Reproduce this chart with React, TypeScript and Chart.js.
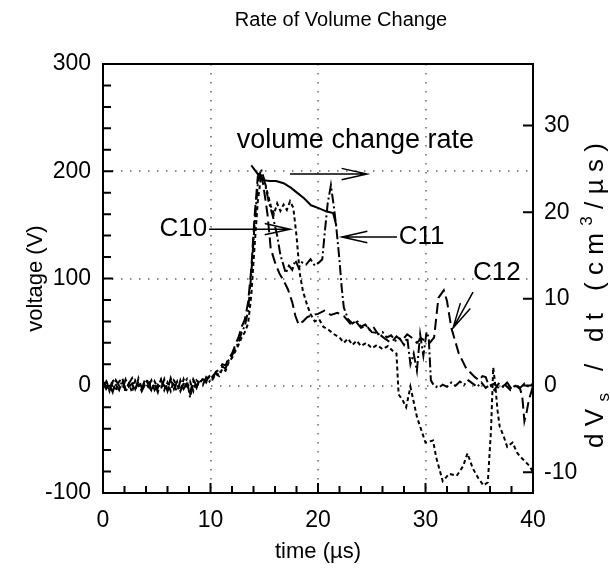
import React, { useEffect, useRef } from 'react';
import { Chart, registerables } from 'chart.js';

Chart.register(...registerables);

const FONT = '"Liberation Sans", Arial, Helvetica, sans-serif';

// ---- data ----
const c10Time = [0,0.3,0.6,0.9,1.2,1.5,1.8,2.1,2.4,2.7,3,3.3,3.6,3.9,4.2,4.5,4.8,5.1,5.4,5.7,6,6.3,6.6,6.9,7.2,7.5,7.8,8.1,8.4,8.7,9,9.3,9.6,9.9,10.2,10.5,10.8,11.1,11.4,11.7,12,12.3,12.6,12.9,
  13.2,13.5,13.8,14.1,14.4,14.7,15.0,15.3,15.6,15.9,16.2,16.5,16.8,17.1,17.4,17.7,18.0,18.3,18.6,19.0,19.3,19.7,20.1,20.5,21.0,21.5,22.0,22.4,22.8,23.2,23.6,24.0,24.5,25.0,25.5,26.0,26.5,27.0,27.3,
  27.5,27.9,28.2,28.6,29.2,30.0,30.7,31.0,31.6,32.2,32.9,33.5,33.9,34.4,34.9,35.4,35.8,36.1,36.3,36.5,36.7,36.9,37.3,37.6,38.1,38.5,38.8,39.2,39.7,40];
const c10Volt = [0,5,-4,3,-5,4,7,-3,2,-6,5,0,-4,6,2,-5,4,-2,6,-4,3,-5,5,0,-4,6,-3,4,-5,5,2,7,3,9,6,11,9,16,14,22,26,32,38,45,
  50,58,85,130,172,195,192,180,168,160,170,163,169,164,172,166,140,105,88,75,67,60,62,55,52,48,45,40,44,38,42,37,40,35,38,34,37,32,30,
  -8,-14,-20,-1,-29,-53,-51,-67,-89,-82,-84,-75,-63,-77,-86,-93,-90,-40,17,0,-23,-38,-48,-57,-53,-62,-66,-70,-75,-81];

const c11Time = [0,0.3,0.6,0.9,1.2,1.5,1.8,2.1,2.4,2.7,3,3.3,3.6,3.9,4.2,4.5,4.8,5.1,5.4,5.7,6,6.3,6.6,6.9,7.2,7.5,7.8,8.1,8.4,8.7,9,9.3,9.6,9.9,10.2,10.5,10.8,11.1,11.4,11.7,12,12.3,12.6,12.9,
  13.2,13.5,13.8,14.1,14.4,14.7,15.0,15.4,15.8,16.2,16.5,16.8,17.0,17.3,17.6,17.9,18.2,18.5,18.9,19.3,19.7,20.1,20.4,20.6,20.9,21.2,21.5,21.7,22.0,22.2,22.4,22.8,23.2,23.6,24.0,24.4,24.8,25.2,25.6,26.0,26.4,26.8,27.2,27.6,28.0,28.3,28.6,28.9,29.2,29.5,29.8,30.1,30.3,
  30.5,30.8,31.2,31.6,32.0,32.4,32.8,33.2,33.6,34.0,34.4,34.8,35.2,35.6,36.0,36.4,36.8,37.2,37.6,38.0,38.4,38.8,39.2,39.6,40];
const c11Volt = [-3,4,-5,6,1,-4,5,-6,2,7,-3,4,-5,1,6,-4,2,-6,5,0,-4,7,-3,4,-5,2,6,-11,4,-2,6,1,8,4,9,12,10,18,16,24,28,35,40,50,
  56,70,105,150,188,202,192,172,158,140,122,112,105,112,108,117,110,115,113,118,112,115,118,140,170,187,165,148,117,92,73,62,58,61,55,57,52,54,48,50,45,47,42,44,38,45,20,30,14,48,28,50,45,
  5,0,-2,1,-1,3,0,4,1,5,2,-1,3,-2,1,-4,2,-1,3,-3,1,-2,2,-1,2];

const c12Time = [0,0.3,0.6,0.9,1.2,1.5,1.8,2.1,2.4,2.7,3,3.3,3.6,3.9,4.2,4.5,4.8,5.1,5.4,5.7,6,6.3,6.6,6.9,7.2,7.5,7.8,8.1,8.4,8.7,9,9.3,9.6,9.9,10.2,10.5,10.8,11.1,11.4,11.7,12,12.3,12.6,12.9,
  13.2,13.5,13.8,14.1,14.4,14.6,14.9,15.3,15.6,16.0,16.4,16.8,17.2,17.6,17.9,18.2,18.6,19.0,19.5,20.0,20.6,21.2,21.8,22.4,23.0,23.5,24.0,24.5,25.0,25.6,26.2,26.8,27.3,27.8,28.3,28.7,29.2,29.6,30.0,30.4,
  30.8,31.2,31.7,32.0,32.4,33.1,33.8,34.6,35.0,35.3,35.6,35.9,36.4,36.9,37.4,37.9,38.4,38.8,39.0,39.2,39.4,39.6,40];
const c12Volt = [4,-3,1,-6,5,0,-4,6,-1,2,-5,7,-2,4,-1,5,-4,1,-3,6,-5,4,1,-6,5,-3,2,-7,6,0,3,6,4,10,7,13,15,20,19,26,30,38,45,55,
  62,78,110,158,195,200,188,160,128,115,105,98,90,78,65,57,60,64,66,67,70,66,68,65,58,60,54,56,50,49,44,40,46,42,48,45,40,44,42,40,
  45,82,89,79,54,30,16,8,5,9,8,0,2,-3,1,-4,0,-3,-10,-33,-25,-14,0];

const rateTime = [13.8,14.4,14.9,15.5,16.1,16.8,17.5,18.1,18.7,19.35,20.0,20.75,21.4,21.7];
const rateValue = [25.4,24.4,23.7,23.6,23.6,23.35,22.8,22.2,21.6,20.8,20.5,20.1,19.9,18.5];

const xTicks = [0, 10, 20, 30, 40];
const yTicks = [-100, 0, 100, 200, 300];
const y1Ticks = [-10, 0, 10, 20, 30];
const gridX = [10, 20, 30];
const gridY = [0, 100, 200];

// annotation labels (data coordinates on time / voltage axes)
const labelTexts = ['volume change rate', 'C10', 'C11', 'C12'];
const labelTime = [12.45, 9.7, 27.5, 34.42];
const labelVolt = [229, 146, 138.7, 105];
const labelAlign = ['left', 'right', 'left', 'left'];
const labelSize = [27, 26, 26, 26];
// arrows: tail -> tip
const arrowTailTime = [17.4, 9.86, 27.35, 34.42];
const arrowTailVolt = [197.4, 146, 138.7, 87.4];
const arrowTipTime = [24.56, 17.4, 22.23, 32.56];
const arrowTipVolt = [197.4, 146, 138.7, 53.8];

const toPts = (xs: number[], ys: number[]) => xs.map((x, i) => ({ x, y: ys[i] }));

function drawArrow(ctx: CanvasRenderingContext2D, x1: number, y1: number, x2: number, y2: number) {
  const ang = Math.atan2(y2 - y1, x2 - x1);
  const L = 26, A = 0.22;
  ctx.beginPath();
  ctx.moveTo(x1, y1);
  ctx.lineTo(x2, y2);
  ctx.moveTo(x2 - L * Math.cos(ang - A), y2 - L * Math.sin(ang - A));
  ctx.lineTo(x2, y2);
  ctx.lineTo(x2 - L * Math.cos(ang + A), y2 - L * Math.sin(ang + A));
  ctx.stroke();
}

const decor = {
  id: 'decor',
  beforeDatasetsDraw(chart: any) {
    const { ctx, chartArea: a, scales } = chart;
    ctx.save();
    ctx.strokeStyle = '#666';
    ctx.lineWidth = 1.5;
    ctx.setLineDash([1.5, 7.5]);
    gridX.forEach((v) => {
      const p = Math.round(scales.x.getPixelForValue(v));
      ctx.beginPath(); ctx.moveTo(p, a.top); ctx.lineTo(p, a.bottom); ctx.stroke();
    });
    gridY.forEach((v) => {
      const p = Math.round(scales.y.getPixelForValue(v));
      ctx.beginPath(); ctx.moveTo(a.left, p); ctx.lineTo(a.right, p); ctx.stroke();
    });
    ctx.restore();
  },
  afterDatasetsDraw(chart: any) {
    const { ctx, chartArea: a, scales } = chart;
    ctx.save();
    ctx.strokeStyle = '#000';
    ctx.lineWidth = 2;
    ctx.setLineDash([]);
    ctx.strokeRect(a.left, a.top, a.right - a.left, a.bottom - a.top);
    ctx.beginPath();
    for (let v = 0; v <= 40; v += 2) {
      const p = scales.x.getPixelForValue(v);
      const len = v % 10 === 0 ? 10 : 7;
      ctx.moveTo(p, a.bottom); ctx.lineTo(p, a.bottom - len);
    }
    for (let v = -100; v <= 300; v += 20) {
      const p = scales.y.getPixelForValue(v);
      const len = v % 100 === 0 ? 10 : 8;
      ctx.moveTo(a.left, p); ctx.lineTo(a.left + len, p);
    }
    y1Ticks.forEach((v) => {
      const p = scales.y1.getPixelForValue(v);
      ctx.moveTo(a.right, p); ctx.lineTo(a.right - 10, p);
    });
    ctx.stroke();

    ctx.lineWidth = 1.5;
    ctx.fillStyle = '#000';
    ctx.textBaseline = 'middle';
    labelTexts.forEach((t, i) => {
      ctx.font = `${labelSize[i]}px ${FONT}`;
      ctx.textAlign = labelAlign[i] as CanvasTextAlign;
      ctx.fillText(t, scales.x.getPixelForValue(labelTime[i]), scales.y.getPixelForValue(labelVolt[i]));
    });
    arrowTailTime.forEach((_, i) => {
      drawArrow(ctx,
        scales.x.getPixelForValue(arrowTailTime[i]), scales.y.getPixelForValue(arrowTailVolt[i]),
        scales.x.getPixelForValue(arrowTipTime[i]), scales.y.getPixelForValue(arrowTipVolt[i]));
    });
    ctx.restore();
  },
  afterDraw(chart: any) {
    const { ctx } = chart;
    ctx.save();
    ctx.fillStyle = '#000';
    ctx.font = `20px ${FONT}`;
    ctx.textAlign = 'center';
    ctx.textBaseline = 'middle';
    ctx.fillText('Rate of Volume Change', 341, 20);
    const parts: [string, number][] = [['d',0],['V',0],['s',1],[' ',0],['/',0],[' ',0],['d',0],['t',0],[' ',0],['(',0],['c',0],['m',0],['3',2],['/',0],['\u00b5',0],['s',0],[')',0]];
    const big = `26px ${FONT}`, small = `17px ${FONT}`;
    let total = 0;
    const widths = parts.map(([t, k]) => { ctx.font = k ? small : big; const w = ctx.measureText(t).width; total += w; return w; });
    const span = 305;
    const sp = (span - total) / (parts.length - 1);
    ctx.translate(603, 448);
    ctx.rotate(-Math.PI / 2);
    ctx.textAlign = 'left';
    ctx.textBaseline = 'alphabetic';
    let pos = 0;
    parts.forEach(([t, k], i) => {
      ctx.font = k ? small : big;
      const off = k === 1 ? 6 : k === 2 ? -11 : 0;
      ctx.fillText(t, pos, off);
      pos += widths[i] + sp;
    });
    ctx.restore();
  },
};

export default function App() {
  const ref = useRef<HTMLCanvasElement | null>(null);
  useEffect(() => {
    if (!ref.current) return;
    Chart.defaults.font.family = FONT;
    const common = { borderColor: '#000', borderWidth: 2, pointRadius: 0, fill: false, tension: 0 };
    const tickFont = { family: FONT, size: 23 };
    const chart = new Chart(ref.current, {
      type: 'line',
      data: {
        datasets: [
          { ...common, label: 'C10', data: toPts(c10Time, c10Volt), borderDash: [4, 3], yAxisID: 'y' },
          { ...common, label: 'C11', data: toPts(c11Time, c11Volt), borderDash: [10, 3, 2, 3], yAxisID: 'y' },
          { ...common, label: 'C12', data: toPts(c12Time, c12Volt), borderDash: [11, 5], yAxisID: 'y' },
          { ...common, label: 'volume change rate', data: toPts(rateTime, rateValue), yAxisID: 'y1' },
        ],
      },
      options: {
        responsive: false,
        animation: false,
        devicePixelRatio: 1,
        layout: { padding: { top: 64, left: 0, right: 0, bottom: 0 } },
        plugins: { legend: { display: false }, tooltip: { enabled: false }, title: { display: false } },
        scales: {
          x: {
            type: 'linear', position: 'bottom', min: 0, max: 40,
            afterBuildTicks: (s: any) => { s.ticks = xTicks.map((v) => ({ value: v })); },
            ticks: { font: tickFont, color: '#000', padding: 14, maxRotation: 0, autoSkip: false },
            grid: { display: false, drawTicks: false }, border: { display: false },
            title: { display: true, text: 'time (\u00b5s)', color: '#000', font: { family: FONT, size: 22 }, padding: { top: 0, bottom: 9 } },
            afterFit: (s: any) => { s.height = 81; },
          },
          y: {
            type: 'linear', position: 'left', min: -100, max: 300,
            afterBuildTicks: (s: any) => { s.ticks = yTicks.map((v) => ({ value: v })); },
            ticks: { font: tickFont, color: '#000', padding: 12, autoSkip: false },
            grid: { display: false, drawTicks: false }, border: { display: false },
            title: { display: true, text: 'voltage (V)', color: '#000', font: { family: FONT, size: 22 }, padding: { top: 23, bottom: 0 } },
            afterFit: (s: any) => { s.width = 103; },
          },
          y1: {
            type: 'linear', position: 'right', min: -12.4, max: 37.1,
            afterBuildTicks: (s: any) => { s.ticks = y1Ticks.map((v) => ({ value: v })); },
            ticks: { font: tickFont, color: '#000', padding: 11, autoSkip: false },
            grid: { display: false, drawTicks: false }, border: { display: false },
            afterFit: (s: any) => { s.width = 77; },
          },
        },
      },
      plugins: [decor],
    });
    return () => chart.destroy();
  }, []);
  return (
    <div style={{ position: 'fixed', left: 0, top: 0, width: 610, height: 574, background: '#fff' }}>
      <canvas ref={ref} width={610} height={574} style={{ display: 'block' }} />
    </div>
  );
}
